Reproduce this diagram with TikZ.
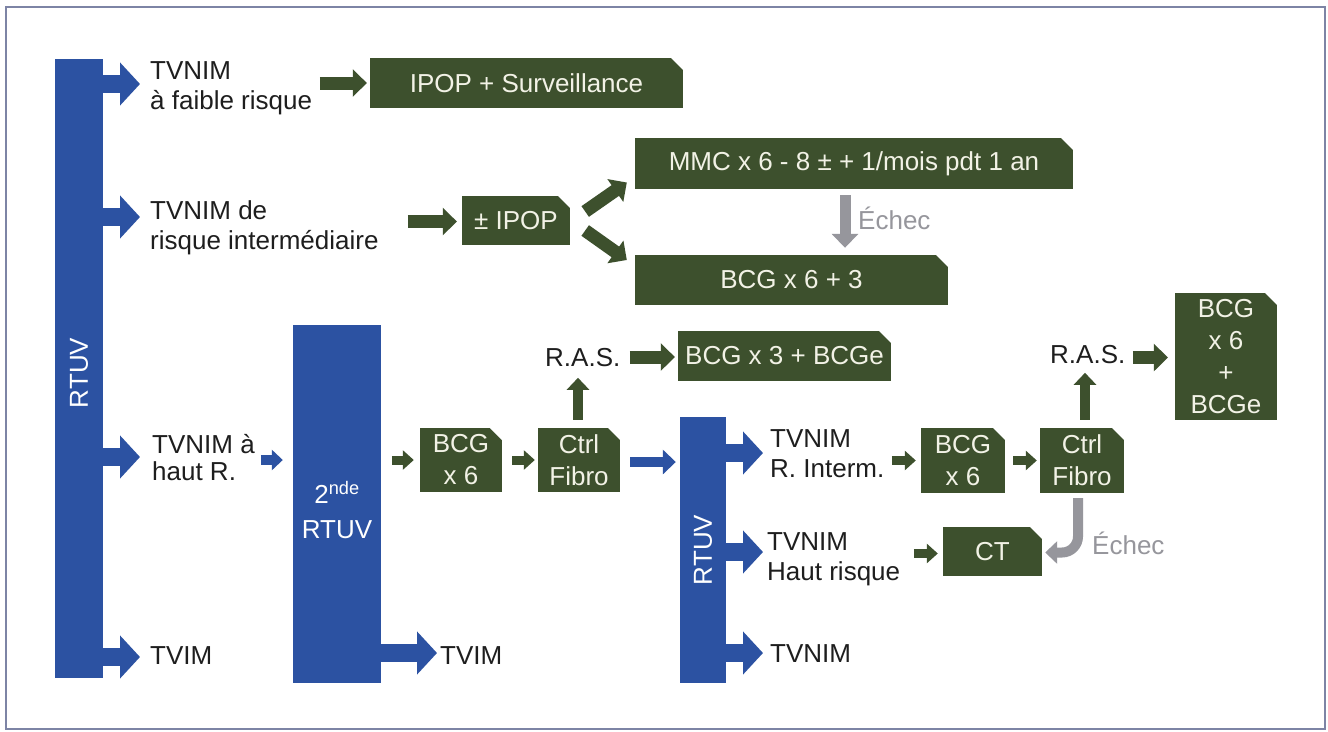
\documentclass[tikz,border=0pt]{standalone}
\usepackage{fontspec}
\setmainfont{Liberation Sans}
\usetikzlibrary{arrows.meta,calc}

\definecolor{bblue}{RGB}{44,82,162}
\definecolor{olive}{RGB}{61,80,45}
\definecolor{boxtxt}{RGB}{242,242,230}
\definecolor{greyarr}{RGB}{150,150,156}
\definecolor{framec}{RGB}{125,132,165}
\definecolor{txt}{RGB}{30,30,30}

\tikzset{
  bigfont/.style={font=\fontsize{26}{30}\selectfont},
  lbl/.style={anchor=west, inner sep=0pt, align=left, text=txt, bigfont},
  bar/.style={fill=bblue, draw=none, inner sep=0pt},
  bartxt/.style={text=white, inner sep=0pt, align=center, bigfont},
  gbox/.style={rectangle, fill=olive, draw=none, text=boxtxt, align=center,
    inner sep=1pt, font=\fontsize{26}{32}\selectfont,
    path picture={\fill[white] (path picture bounding box.north east)
      -- ++(-12pt,0pt) -- ++(12pt,-12pt) -- cycle;}},
  bbig/.style={draw=bblue, line width=18pt, -{Triangle[length=20pt,width=42pt]}},
  bsmall/.style={draw=bblue, line width=10pt, -{Triangle[length=11pt,width=20pt]}},
  bmid/.style={draw=bblue, line width=10pt, -{Triangle[length=13pt,width=24pt]}},
  gbig/.style={draw=olive, line width=13pt, -{Triangle[length=14pt,width=27pt]}},
  gsmall/.style={draw=olive, line width=9pt, -{Triangle[length=11pt,width=19pt]}},
  gup/.style={draw=olive, line width=10pt, -{Triangle[length=12pt,width=22pt]}},
  ybig/.style={draw=greyarr, line width=11pt, -{Triangle[length=14pt,width=26pt]}},
  ycurve/.style={draw=greyarr, line width=10pt, rounded corners=16pt,
    -{Triangle[length=12pt,width=22pt]}},
}

\begin{document}
\begin{tikzpicture}[x=1pt,y=-1pt]
\useasboundingbox (0,0) rectangle (1328,731);
\fill[white] (0,0) rectangle (1328,731);
\draw[framec, line width=1.5pt] (6,7) rectangle (1325,729);

% vertical RTUV bars
\node[bar, minimum width=48pt, minimum height=619pt] (bar1) at (79,368.5) {};
\node[bartxt, rotate=90] (bar1t) at (79,373) {RTUV};
\node[bar, minimum width=88pt, minimum height=358pt] (bar2) at (337,504) {};
\node[bartxt, font=\fontsize{26}{35}\selectfont] (bar2t) at (337,510) {2\textsuperscript{nde}\\RTUV};
\node[bar, minimum width=46pt, minimum height=266pt] (bar3) at (703,550) {};
\node[bartxt, rotate=90] (bar3t) at (703,550) {RTUV};

% outcome labels
\node[lbl] (t1) at (150,88) {TVNIM\\à faible risque};
\node[lbl] (t2) at (150,228) {TVNIM de\\risque intermédiaire};
\node[lbl, font=\fontsize{26}{27}\selectfont] (t3) at (152,458) {TVNIM à\\haut R.};
\node[lbl] (t4) at (150,656) {TVIM};
\node[lbl] (t5) at (440,656) {TVIM};
\node[lbl] (ta) at (770,454) {TVNIM\\R. Interm.};
\node[lbl] (tb) at (767,559) {TVNIM\\Haut risque};
\node[lbl] (tc) at (770,654) {TVNIM};
\node[lbl] (ras1) at (545,358) {R.A.S.};
\node[lbl] (ras2) at (1050,355) {R.A.S.};
\node[lbl, text=greyarr] (e1) at (858,218) {Échec};
\node[lbl, text=greyarr] (e2) at (1092,543) {Échec};

% treatment boxes
\node[gbox, minimum width=313pt, minimum height=50pt] (ipops) at (526.5,83) {IPOP + Surveillance};
\node[gbox, minimum width=108pt, minimum height=49pt] (ipop) at (516,220.5) {± IPOP};
\node[gbox, minimum width=438pt, minimum height=51pt] (mmc) at (854,163.5) {MMC x 6 - 8 ± + 1/mois pdt 1 an};
\node[gbox, minimum width=313pt, minimum height=50pt] (bcg63) at (791.5,280) {BCG x 6 + 3};
\node[gbox, minimum width=213pt, minimum height=50pt] (bcgx3) at (784.5,356) {BCG x 3 + BCGe};
\node[gbox, minimum width=82pt, minimum height=64pt] (bcg6a) at (461,460) {BCG\\x 6};
\node[gbox, minimum width=82pt, minimum height=64pt] (ctrl1) at (579,460) {Ctrl\\Fibro};
\node[gbox, minimum width=84pt, minimum height=65pt] (bcg6b) at (963,460.5) {BCG\\x 6};
\node[gbox, minimum width=84pt, minimum height=65pt] (ctrl2) at (1082,460.5) {Ctrl\\Fibro};
\node[gbox, minimum width=99pt, minimum height=49pt] (ct) at (992.5,551.5) {CT};
\node[gbox, minimum width=102pt, minimum height=127pt] (bcgfin) at (1226,356.5) {BCG\\x 6\\+\\BCGe};

% tips of the bar arrows
\coordinate (r1) at (140,84);
\coordinate (r2) at (140,217);
\coordinate (r3) at (140,457);
\coordinate (r4) at (140,657);
\coordinate (r5) at (437,653);
\coordinate (r6) at (763,453);
\coordinate (r7) at (763,552);
\coordinate (r8) at (763,653);

% blue arrows
\foreach \r in {r1,r2,r3,r4} \draw[bbig] ([xshift=-1pt]bar1.east |- \r) -- (\r);
\draw[bbig] ([xshift=-1pt]bar2.east |- r5) -- (r5);
\foreach \r in {r6,r7,r8} \draw[bbig] ([xshift=-1pt]bar3.east |- \r) -- (\r);
\draw[bsmall] ($(bar2.west |- bcg6a.west)+(-32,0)$) -- ($(bar2.west |- bcg6a.west)+(-10,0)$);
\draw[bmid] ($(ctrl1.east)+(10,2)$) -- ($(bar3.west |- ctrl1.east)+(-4,2)$);

% green arrows
\draw[gbig] ($(ipops.west)+(-50,0)$) -- ($(ipops.west)+(-3,0)$);
\draw[gbig] ($(ipop.west)+(-54,1)$) -- ($(ipop.west)+(-5,1)$);
\draw[gbig] ($(ipop.east)+(15,-9)$) -- ($(mmc.west)+(-8,19)$);
\draw[gbig] ($(ipop.east)+(15,10)$) -- ($(bcg63.west)+(-8,-20)$);
\draw[gsmall] ($(bcg6a.west)+(-28,0)$) -- ($(bcg6a.west)+(-6,0)$);
\draw[gsmall] ($(bcg6a.east)+(10,0)$) -- ($(ctrl1.west)+(-3,0)$);
\draw[gsmall] ($(bcg6b.west)+(-29,0)$) -- ($(bcg6b.west)+(-5,0)$);
\draw[gsmall] ($(bcg6b.east)+(8,0)$) -- ($(ctrl2.west)+(-3,0)$);
\draw[gsmall] ($(ct.west)+(-29,2)$) -- ($(ct.west)+(-5,2)$);
\draw[gup] ($(ctrl1.north)+(-1,-8)$) -- ($(ctrl1.north)+(-1,-50)$);
\draw[gup] ($(ctrl2.north)+(3,-8)$) -- ($(ctrl2.north)+(3,-55)$);
\draw[gbig] ($(bcgx3.west)+(-48,1)$) -- ($(bcgx3.west)+(-3,1)$);
\draw[gbig] ($(bcgfin.west)+(-42,1)$) -- ($(bcgfin.west)+(-7,1)$);

% failure arrows
\draw[ybig] ($(mmc.south)+(-9,6)$) -- ($(mmc.south |- bcg63.north)+(-9,-7)$);
\draw[ycurve] ($(ctrl2.south)+(-4,5)$) |- ($(ct.east)+(3,1)$);
\end{tikzpicture}
\end{document}
